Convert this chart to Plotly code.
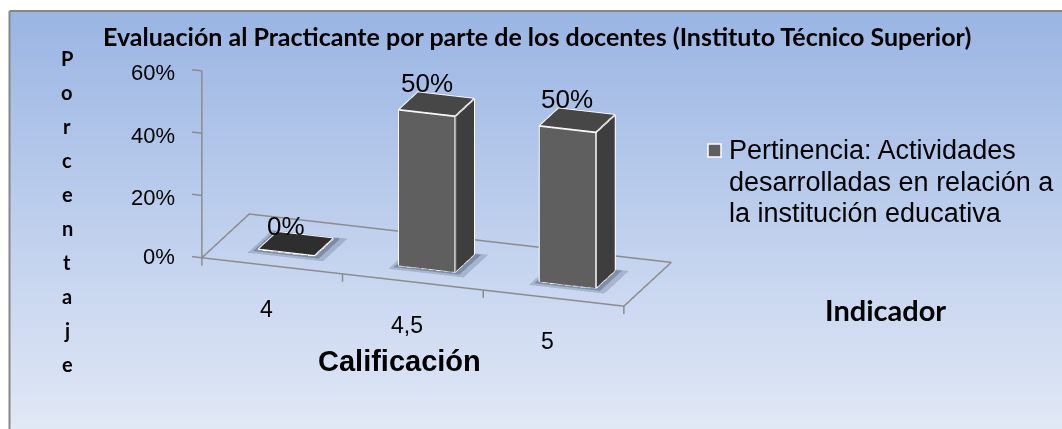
import math
import plotly.graph_objects as go

categories = ["4", "4,5", "5"]
values = [0.0, 0.5, 0.5]
value_labels = ["0%", "50%", "50%"]
y_ticks = [0.0, 0.2, 0.4, 0.6]
y_tick_labels = ["0%", "20%", "40%", "60%"]
title = "Evaluación al Practicante por parte de los docentes (Instituto Técnico Superior)"
y_title = "Porcentaje"
x_title = "Calificación"
legend_lines = ["Pertinencia: Actividades", "desarrolladas en relación a", "la institución educativa"]
legend_title = "Indicador"

W, H = 1062, 429
FRAME_L, FRAME_T = 9.5, 11
BAR_W, BAR_D = 0.40, 0.40
AZ, EL, DIST = math.radians(19.4), math.radians(19), 3.0
ZMAX = 0.6

def px(x): return x / W
def py(y): return 1 - y / H

fig = go.Figure()

# gradient plate
fig.add_trace(go.Heatmap(z=[[0], [1]], y=[0, 1], x=[0, 1], showscale=False, hoverinfo="skip",
    colorscale=[[0, "#9ab5e3"], [1, "#e1e8f6"]], zsmooth="best", xaxis="x", yaxis="y"))

# bars
vx, vy, vz, I, J, K, fc = [], [], [], [], [], [], []
def quad(pts, color):
    n = len(vx)
    for p in pts:
        vx.append(p[0]); vy.append(p[1]); vz.append(p[2])
    I.extend([n, n]); J.extend([n + 1, n + 2]); K.extend([n + 2, n + 3]); fc.extend([color, color])

lx, ly, lz = [], [], []
def poly(pts):
    for p in pts:
        lx.append(p[0]); ly.append(p[1]); lz.append(p[2])
    lx.append(None); ly.append(None); lz.append(None)

for i, v in enumerate(values):
    a, b = i + 0.5 - BAR_W / 2, i + 0.5 + BAR_W / 2
    c, d = 0.5 - BAR_D / 2, 0.5 + BAR_D / 2
    top = "#2e2e2e" if v == 0 else "#474747"
    quad([(a, c, v), (b, c, v), (b, d, v), (a, d, v)], top)
    if v > 0:
        quad([(a, c, 0), (b, c, 0), (b, c, v), (a, c, v)], "#5f5f5f")
        quad([(b, c, 0), (b, d, 0), (b, d, v), (b, c, v)], "#3e3e3e")
        poly([(a, c, 0), (b, c, 0), (b, c, v), (a, c, v), (a, c, 0)])
        poly([(b, c, 0), (b, d, 0), (b, d, v), (b, c, v)])
        poly([(a, c, v), (a, d, v), (b, d, v)])
    else:
        poly([(a, c, v), (b, c, v), (b, d, v), (a, d, v), (a, c, v)])

# soft shadows under the bars
def shadow_mesh(grow, opacity):
    sx, sy, sz, si, sj, sk = [], [], [], [], [], []
    for i in range(len(values)):
        a, b = i + 0.5 - BAR_W / 2 - grow * 0.5, i + 0.5 + BAR_W / 2 + grow
        c, d = 0.5 - BAR_D / 2 - grow, 0.5 + BAR_D / 2 + grow * 0.3
        n = len(sx)
        sx += [a, b, b, a]; sy += [c, c, d, d]; sz += [0, 0, 0, 0]
        si += [n, n]; sj += [n + 1, n + 2]; sk += [n + 2, n + 3]
    return go.Mesh3d(x=sx, y=sy, z=sz, i=si, j=sj, k=sk, color="#44536f", opacity=opacity,
                     lighting=dict(ambient=1, diffuse=0, specular=0, fresnel=0), hoverinfo="skip", scene="scene")

fig.add_trace(shadow_mesh(0.09, 0.25))
fig.add_trace(shadow_mesh(0.045, 0.4))

fig.add_trace(go.Mesh3d(x=vx, y=vy, z=vz, i=I, j=J, k=K, facecolor=fc, flatshading=True,
    lighting=dict(ambient=1, diffuse=0, specular=0, fresnel=0), hoverinfo="skip", scene="scene"))
fig.add_trace(go.Scatter3d(x=lx, y=ly, z=lz, mode="lines", line=dict(color="#ffffff", width=3.5),
    hoverinfo="skip", scene="scene", showlegend=False))

# floor + axes
n = len(categories)
ax, ay, az = [], [], []
def seg(pts):
    for p in pts:
        ax.append(p[0]); ay.append(p[1]); az.append(p[2])
    ax.append(None); ay.append(None); az.append(None)
seg([(0, 0, 0), (n, 0, 0), (n, 1, 0), (0, 1, 0), (0, 0, 0)])
seg([(0, 0, 0), (0, 0, ZMAX)])
for t in y_ticks:
    seg([(0, 0, t), (-0.07, 0, t)])
for i in range(n + 1):
    seg([(i, 0, 0), (i, 0, -0.025)])
fig.add_trace(go.Scatter3d(x=ax, y=ay, z=az, mode="lines", line=dict(color="#8c8c8c", width=3),
    hoverinfo="skip", scene="scene", showlegend=False))

annots3d = []
for i, (v, t) in enumerate(zip(values, value_labels)):
    annots3d.append(dict(x=i + 0.5, y=0.5, z=v, text=t, showarrow=False, yshift=21 if v > 0 else 18, xshift=-10,
                         font=dict(family="Liberation Sans", size=26, color="#000000")))
for t, lab in zip(y_ticks, y_tick_labels):
    annots3d.append(dict(x=-0.07, y=0, z=t, text=lab, showarrow=False, xanchor="right", xshift=-15, yshift=-3 if t else 0,
                         font=dict(family="Liberation Sans", size=22, color="#000000")))
for i, lab in enumerate(categories):
    annots3d.append(dict(x=i + 0.5, y=0, z=0, text=lab, showarrow=False, yshift=-43, xshift=-6,
                         font=dict(family="Liberation Sans", size=23, color="#000000")))

def note(x, y, text, family, size, xanchor="center"):
    return dict(x=px(x), y=py(y), xref="paper", yref="paper", text=text, showarrow=False,
                xanchor=xanchor, yanchor="middle", font=dict(family=family, size=size, color="#000000"))

annotations = [note(537, 36, "<b>" + title + "</b>", "Lato", 25)]
for i, ch in enumerate(y_title):
    annotations.append(note(67, 58 + 34 * i, "<b>" + ch + "</b>", "Lato", 20))
annotations.append(note(399, 361, "<b>" + x_title + "</b>", "Liberation Sans", 29))
for i, line in enumerate(legend_lines):
    annotations.append(note(727, 150 + 31.5 * i, line, "Liberation Sans", 27, "left"))
annotations.append(note(885, 309, "<b>" + legend_title + "</b>", "Lato", 29))

shapes = [
    dict(type="line", xref="paper", yref="paper", x0=px(FRAME_L), x1=px(FRAME_L), y0=0, y1=py(FRAME_T),
         line=dict(color="#868686", width=2)),
    dict(type="line", xref="paper", yref="paper", x0=px(FRAME_L), x1=1, y0=py(FRAME_T), y1=py(FRAME_T),
         line=dict(color="#868686", width=2)),
    dict(type="rect", xref="paper", yref="paper", x0=px(708), x1=px(721), y0=py(157), y1=py(144),
         fillcolor="#5f5f5f", line=dict(color="#ffffff", width=1.5)),
]

d = DIST
k = 164.0
fig.update_layout(
    width=W, height=H, margin=dict(l=0, r=0, t=0, b=0), paper_bgcolor="#ffffff", plot_bgcolor="rgba(0,0,0,0)",
    showlegend=False, annotations=annotations, shapes=shapes,
    xaxis=dict(domain=[px(FRAME_L), 1], visible=False, range=[0, 1], fixedrange=True),
    yaxis=dict(domain=[0, py(FRAME_T)], visible=False, range=[1, 0], fixedrange=True),
    scene=dict(
        domain=dict(x=[0, 845 / W], y=[1 - 330 / H, 1]),
        bgcolor="rgba(0,0,0,0)",
        xaxis=dict(visible=False, range=[-0.3, n + 0.1], autorange=False),
        yaxis=dict(visible=False, range=[-0.1, 1.1], autorange=False),
        zaxis=dict(visible=False, range=[-0.1, 0.7], autorange=False),
        aspectmode="manual",
        aspectratio=dict(x=504 / k, y=170 / k, z=262 / k),
        annotations=annots3d,
        camera=dict(
            projection=dict(type="orthographic"),
            up=dict(x=0, y=0, z=1),
            center=dict(x=0, y=0, z=0),
            eye=dict(x=d * math.sin(AZ) * math.cos(EL), y=-d * math.cos(AZ) * math.cos(EL), z=d * math.sin(EL)),
        ),
    ),
)
fig.write_html("out.html", config=dict(displayModeBar=False),
               post_script="document.body.style.margin='0';")
